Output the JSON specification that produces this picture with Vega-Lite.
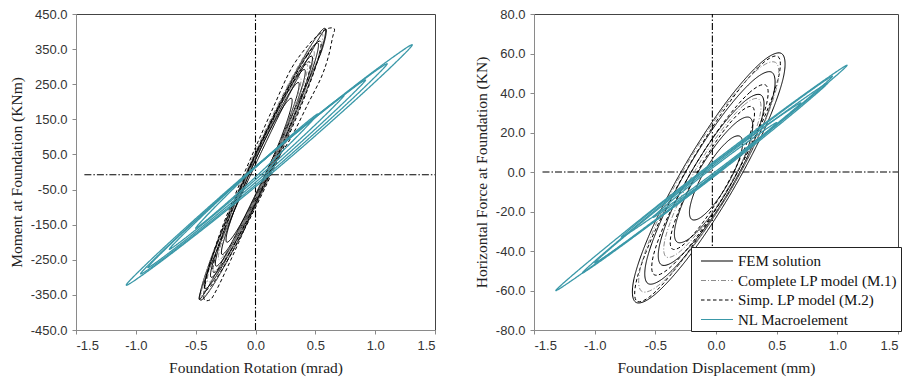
{
"$schema": "https://vega.github.io/schema/vega-lite/v6.json",
"background": "white",
"padding": {"left": 8, "top": 7, "right": 0, "bottom": 2},
"spacing": 36,
"config": {
  "view": {"stroke": "#444", "strokeWidth": 1},
  "axis": {"grid": false, "domainColor": "#8a8a8a", "tickColor": "#8a8a8a", "tickSize": 4, "labelPadding": 5, "labelFont": "Liberation Sans", "labelFontSize": 13, "labelColor": "#333", "titleFont": "Liberation Serif", "titleFontSize": 15.5, "titleFontWeight": "normal", "titleColor": "#222"},
  "axisX": {"titlePadding": 8},
  "axisY": {"titlePadding": 6}
},
"datasets": {
"L": [
{"s":"N","k":"N1","x":-1.08,"y":-322},{"s":"N","k":"N1","x":-0.937,"y":-270.5},{"s":"N","k":"N1","x":-0.602,"y":-164.2},{"s":"N","k":"N1","x":-0.124,"y":-19.9},{"s":"N","k":"N1","x":0.354,"y":116.9},{"s":"N","k":"N1","x":0.832,"y":246.2},{"s":"N","k":"N1","x":1.167,"y":331.5},{"s":"N","k":"N1","x":1.31,"y":362},{"s":"N","k":"N1","x":1.167,"y":310.5},{"s":"N","k":"N1","x":0.832,"y":204.2},{"s":"N","k":"N1","x":0.354,"y":59.9},{"s":"N","k":"N1","x":-0.124,"y":-76.9},{"s":"N","k":"N1","x":-0.602,"y":-206.2},{"s":"N","k":"N1","x":-0.937,"y":-291.5},
{"s":"N","k":"N2","x":-0.96,"y":-290},{"s":"N","k":"N2","x":-0.836,"y":-245.0},{"s":"N","k":"N2","x":-0.548,"y":-152.2},{"s":"N","k":"N2","x":-0.136,"y":-26.1},{"s":"N","k":"N2","x":0.276,"y":93.5},{"s":"N","k":"N2","x":0.688,"y":206.6},{"s":"N","k":"N2","x":0.976,"y":281.2},{"s":"N","k":"N2","x":1.10,"y":308},{"s":"N","k":"N2","x":0.976,"y":263.0},{"s":"N","k":"N2","x":0.688,"y":170.2},{"s":"N","k":"N2","x":0.276,"y":44.1},{"s":"N","k":"N2","x":-0.136,"y":-75.5},{"s":"N","k":"N2","x":-0.548,"y":-188.6},{"s":"N","k":"N2","x":-0.836,"y":-263.2},
{"s":"N","k":"N3","x":-0.90,"y":-272},{"s":"N","k":"N3","x":-0.791,"y":-232.3},{"s":"N","k":"N3","x":-0.536,"y":-149.8},{"s":"N","k":"N3","x":-0.172,"y":-37.5},{"s":"N","k":"N3","x":0.192,"y":69.3},{"s":"N","k":"N3","x":0.556,"y":170.6},{"s":"N","k":"N3","x":0.811,"y":237.7},{"s":"N","k":"N3","x":0.92,"y":262},{"s":"N","k":"N3","x":0.811,"y":222.3},{"s":"N","k":"N3","x":0.556,"y":139.8},{"s":"N","k":"N3","x":0.192,"y":27.5},{"s":"N","k":"N3","x":-0.172,"y":-79.3},{"s":"N","k":"N3","x":-0.536,"y":-180.6},{"s":"N","k":"N3","x":-0.791,"y":-247.7},
{"s":"N","k":"N4","x":-0.72,"y":-220},{"s":"N","k":"N4","x":-0.632,"y":-187.4},{"s":"N","k":"N4","x":-0.428,"y":-119.8},{"s":"N","k":"N4","x":-0.136,"y":-27.7},{"s":"N","k":"N4","x":0.156,"y":59.9},{"s":"N","k":"N4","x":0.448,"y":143.0},{"s":"N","k":"N4","x":0.652,"y":198.0},{"s":"N","k":"N4","x":0.74,"y":218},{"s":"N","k":"N4","x":0.652,"y":185.4},{"s":"N","k":"N4","x":0.448,"y":117.8},{"s":"N","k":"N4","x":0.156,"y":25.7},{"s":"N","k":"N4","x":-0.136,"y":-61.9},{"s":"N","k":"N4","x":-0.428,"y":-145.0},{"s":"N","k":"N4","x":-0.632,"y":-200.0},
{"s":"N","k":"N5","x":-0.50,"y":-160},{"s":"N","k":"N5","x":-0.439,"y":-135.6},{"s":"N","k":"N5","x":-0.296,"y":-85.2},{"s":"N","k":"N5","x":-0.092,"y":-16.7},{"s":"N","k":"N5","x":0.112,"y":48.3},{"s":"N","k":"N5","x":0.316,"y":109.8},{"s":"N","k":"N5","x":0.459,"y":150.4},{"s":"N","k":"N5","x":0.52,"y":165},{"s":"N","k":"N5","x":0.459,"y":140.6},{"s":"N","k":"N5","x":0.316,"y":90.2},{"s":"N","k":"N5","x":0.112,"y":21.7},{"s":"N","k":"N5","x":-0.092,"y":-43.3},{"s":"N","k":"N5","x":-0.296,"y":-104.8},{"s":"N","k":"N5","x":-0.439,"y":-145.4},
{"s":"F","k":"F1","x":0.58,"y":409},{"s":"F","k":"F1","x":0.468,"y":363.1},{"s":"F","k":"F1","x":0.246,"y":225.9},{"s":"F","k":"F1","x":-0.025,"y":34},{"s":"F","k":"F1","x":-0.274,"y":-161.1},{"s":"F","k":"F1","x":-0.433,"y":-307.1},{"s":"F","k":"F1","x":-0.46,"y":-365},{"s":"F","k":"F1","x":-0.348,"y":-319.1},{"s":"F","k":"F1","x":-0.126,"y":-181.9},{"s":"F","k":"F1","x":0.145,"y":10},{"s":"F","k":"F1","x":0.394,"y":205.1},{"s":"F","k":"F1","x":0.553,"y":351.1},
{"s":"F","k":"F2","x":0.52,"y":368},{"s":"F","k":"F2","x":0.417,"y":326.6},{"s":"F","k":"F2","x":0.216,"y":202.5},{"s":"F","k":"F2","x":-0.03,"y":29},{"s":"F","k":"F2","x":-0.254,"y":-147.5},{"s":"F","k":"F2","x":-0.397,"y":-279.6},{"s":"F","k":"F2","x":-0.42,"y":-332},{"s":"F","k":"F2","x":-0.317,"y":-290.6},{"s":"F","k":"F2","x":-0.116,"y":-166.5},{"s":"F","k":"F2","x":0.13,"y":7},{"s":"F","k":"F2","x":0.354,"y":183.5},{"s":"F","k":"F2","x":0.497,"y":315.6},
{"s":"F","k":"F3","x":0.47,"y":330},{"s":"F","k":"F3","x":0.376,"y":292.8},{"s":"F","k":"F3","x":0.195,"y":181.2},{"s":"F","k":"F3","x":-0.025,"y":25},{"s":"F","k":"F3","x":-0.225,"y":-133.8},{"s":"F","k":"F3","x":-0.351,"y":-252.8},{"s":"F","k":"F3","x":-0.37,"y":-300},{"s":"F","k":"F3","x":-0.276,"y":-262.8},{"s":"F","k":"F3","x":-0.095,"y":-151.2},{"s":"F","k":"F3","x":0.125,"y":5},{"s":"F","k":"F3","x":0.325,"y":163.8},{"s":"F","k":"F3","x":0.451,"y":282.8},
{"s":"F","k":"F4","x":0.41,"y":292},{"s":"F","k":"F4","x":0.325,"y":259.5},{"s":"F","k":"F4","x":0.164,"y":160.7},{"s":"F","k":"F4","x":-0.03,"y":22},{"s":"F","k":"F4","x":-0.206,"y":-119.3},{"s":"F","k":"F4","x":-0.315,"y":-225.5},{"s":"F","k":"F4","x":-0.33,"y":-268},{"s":"F","k":"F4","x":-0.245,"y":-235.5},{"s":"F","k":"F4","x":-0.084,"y":-136.7},{"s":"F","k":"F4","x":0.11,"y":2},{"s":"F","k":"F4","x":0.286,"y":143.3},{"s":"F","k":"F4","x":0.395,"y":249.5},
{"s":"F","k":"F5","x":0.36,"y":255},{"s":"F","k":"F5","x":0.287,"y":226.7},{"s":"F","k":"F5","x":0.148,"y":140.3},{"s":"F","k":"F5","x":-0.02,"y":19},{"s":"F","k":"F5","x":-0.172,"y":-104.7},{"s":"F","k":"F5","x":-0.267,"y":-197.7},{"s":"F","k":"F5","x":-0.28,"y":-235},{"s":"F","k":"F5","x":-0.207,"y":-206.7},{"s":"F","k":"F5","x":-0.068,"y":-120.3},{"s":"F","k":"F5","x":0.10,"y":1},{"s":"F","k":"F5","x":0.252,"y":124.7},{"s":"F","k":"F5","x":0.347,"y":217.7},
{"s":"F","k":"F6","x":0.30,"y":210},{"s":"F","k":"F6","x":0.234,"y":186.5},{"s":"F","k":"F6","x":0.113,"y":114.4},{"s":"F","k":"F6","x":-0.03,"y":13},{"s":"F","k":"F6","x":-0.157,"y":-90.6},{"s":"F","k":"F6","x":-0.234,"y":-168.5},{"s":"F","k":"F6","x":-0.24,"y":-200},{"s":"F","k":"F6","x":-0.174,"y":-176.5},{"s":"F","k":"F6","x":-0.053,"y":-104.4},{"s":"F","k":"F6","x":0.09,"y":-3},{"s":"F","k":"F6","x":0.217,"y":100.6},{"s":"F","k":"F6","x":0.294,"y":178.5},
{"s":"F","k":"F7","x":0.59,"y":407},{"s":"F","k":"F7","x":0.494,"y":358.9},{"s":"F","k":"F7","x":0.282,"y":220.6},{"s":"F","k":"F7","x":0.01,"y":29},{"s":"F","k":"F7","x":-0.248,"y":-164.4},{"s":"F","k":"F7","x":-0.424,"y":-307.9},{"s":"F","k":"F7","x":-0.47,"y":-363},{"s":"F","k":"F7","x":-0.374,"y":-314.9},{"s":"F","k":"F7","x":-0.162,"y":-176.6},{"s":"F","k":"F7","x":0.11,"y":15},{"s":"F","k":"F7","x":0.368,"y":208.4},{"s":"F","k":"F7","x":0.544,"y":336.9},
{"s":"C","k":"C1","x":0.555,"y":395},{"s":"C","k":"C1","x":0.443,"y":351.3},{"s":"C","k":"C1","x":0.227,"y":218.8},{"s":"C","k":"C1","x":-0.035,"y":33},{"s":"C","k":"C1","x":-0.273,"y":-156.2},{"s":"C","k":"C1","x":-0.423,"y":-298.3},{"s":"C","k":"C1","x":-0.445,"y":-355},{"s":"C","k":"C1","x":-0.333,"y":-311.3},{"s":"C","k":"C1","x":-0.117,"y":-178.8},{"s":"C","k":"C1","x":0.145,"y":7},{"s":"C","k":"C1","x":0.383,"y":196.2},{"s":"C","k":"C1","x":0.533,"y":338.3},
{"s":"C","k":"C2","x":0.485,"y":346},{"s":"C","k":"C2","x":0.386,"y":307.8},{"s":"C","k":"C2","x":0.196,"y":191.4},{"s":"C","k":"C2","x":-0.035,"y":28},{"s":"C","k":"C2","x":-0.244,"y":-138.6},{"s":"C","k":"C2","x":-0.376,"y":-263.8},{"s":"C","k":"C2","x":-0.395,"y":-314},{"s":"C","k":"C2","x":-0.296,"y":-275.8},{"s":"C","k":"C2","x":-0.106,"y":-159.4},{"s":"C","k":"C2","x":0.125,"y":4},{"s":"C","k":"C2","x":0.334,"y":170.6},{"s":"C","k":"C2","x":0.466,"y":295.8},
{"s":"C","k":"C3","x":0.43,"y":307},{"s":"C","k":"C3","x":0.343,"y":272.5},{"s":"C","k":"C3","x":0.174,"y":168.2},{"s":"C","k":"C3","x":-0.03,"y":22},{"s":"C","k":"C3","x":-0.216,"y":-126.8},{"s":"C","k":"C3","x":-0.333,"y":-238.5},{"s":"C","k":"C3","x":-0.35,"y":-283},{"s":"C","k":"C3","x":-0.263,"y":-248.5},{"s":"C","k":"C3","x":-0.094,"y":-144.2},{"s":"C","k":"C3","x":0.11,"y":2},{"s":"C","k":"C3","x":0.296,"y":150.8},{"s":"C","k":"C3","x":0.413,"y":262.5},
{"s":"C","k":"C4","x":0.375,"y":270},{"s":"C","k":"C4","x":0.297,"y":239.7},{"s":"C","k":"C4","x":0.149,"y":147.8},{"s":"C","k":"C4","x":-0.03,"y":19},{"s":"C","k":"C4","x":-0.191,"y":-112.2},{"s":"C","k":"C4","x":-0.292,"y":-210.7},{"s":"C","k":"C4","x":-0.305,"y":-250},{"s":"C","k":"C4","x":-0.227,"y":-219.7},{"s":"C","k":"C4","x":-0.079,"y":-127.8},{"s":"C","k":"C4","x":0.10,"y":1},{"s":"C","k":"C4","x":0.261,"y":132.2},{"s":"C","k":"C4","x":0.362,"y":229.7},
{"s":"S","k":"S1","x":-0.43,"y":-362},{"s":"S","k":"S1","x":-0.42,"y":-320},{"s":"S","k":"S1","x":-0.37,"y":-250},{"s":"S","k":"S1","x":-0.27,"y":-150},{"s":"S","k":"S1","x":-0.14,"y":-40},{"s":"S","k":"S1","x":0.0,"y":70},{"s":"S","k":"S1","x":0.15,"y":185},{"s":"S","k":"S1","x":0.30,"y":295},{"s":"S","k":"S1","x":0.45,"y":365},{"s":"S","k":"S1","x":0.56,"y":400},{"s":"S","k":"S1","x":0.62,"y":410},{"s":"S","k":"S1","x":0.66,"y":407},{"s":"S","k":"S1","x":0.645,"y":385},{"s":"S","k":"S1","x":0.61,"y":330},{"s":"S","k":"S1","x":0.55,"y":270},{"s":"S","k":"S1","x":0.44,"y":195},{"s":"S","k":"S1","x":0.30,"y":100},{"s":"S","k":"S1","x":0.12,"y":0},{"s":"S","k":"S1","x":0.0,"y":-90},{"s":"S","k":"S1","x":-0.14,"y":-200},{"s":"S","k":"S1","x":-0.26,"y":-290},{"s":"S","k":"S1","x":-0.34,"y":-345},{"s":"S","k":"S1","x":-0.38,"y":-364},
{"s":"S","k":"S2","x":0.54,"y":373},{"s":"S","k":"S2","x":0.431,"y":331.4},{"s":"S","k":"S2","x":0.222,"y":205.9},{"s":"S","k":"S2","x":-0.03,"y":30},{"s":"S","k":"S2","x":-0.258,"y":-149.1},{"s":"S","k":"S2","x":-0.401,"y":-283.4},{"s":"S","k":"S2","x":-0.42,"y":-337},{"s":"S","k":"S2","x":-0.311,"y":-295.4},{"s":"S","k":"S2","x":-0.102,"y":-169.9},{"s":"S","k":"S2","x":0.15,"y":6},{"s":"S","k":"S2","x":0.378,"y":185.1},{"s":"S","k":"S2","x":0.521,"y":319.4},
{"s":"S","k":"S3","x":0.45,"y":314},{"s":"S","k":"S3","x":0.356,"y":279.3},{"s":"S","k":"S3","x":0.181,"y":173.5},{"s":"S","k":"S3","x":-0.03,"y":25},{"s":"S","k":"S3","x":-0.219,"y":-126.5},{"s":"S","k":"S3","x":-0.336,"y":-240.3},{"s":"S","k":"S3","x":-0.35,"y":-286},{"s":"S","k":"S3","x":-0.256,"y":-251.3},{"s":"S","k":"S3","x":-0.081,"y":-145.5},{"s":"S","k":"S3","x":0.13,"y":3},{"s":"S","k":"S3","x":0.319,"y":154.5},{"s":"S","k":"S3","x":0.436,"y":268.3}
],
"R": [
{"s":"N","k":"N1","x":-1.32,"y":-60},{"s":"N","k":"N1","x":-1.176,"y":-51.9},{"s":"N","k":"N1","x":-0.84,"y":-34.75},{"s":"N","k":"N1","x":-0.36,"y":-11.1},{"s":"N","k":"N1","x":0.12,"y":11.7},{"s":"N","k":"N1","x":0.60,"y":33.65},{"s":"N","k":"N1","x":0.936,"y":48.4},{"s":"N","k":"N1","x":1.08,"y":54},{"s":"N","k":"N1","x":0.936,"y":45.9},{"s":"N","k":"N1","x":0.60,"y":28.75},{"s":"N","k":"N1","x":0.12,"y":5.1},{"s":"N","k":"N1","x":-0.36,"y":-17.7},{"s":"N","k":"N1","x":-0.84,"y":-39.65},{"s":"N","k":"N1","x":-1.176,"y":-54.4},
{"s":"N","k":"N2","x":-1.10,"y":-51},{"s":"N","k":"N2","x":-0.976,"y":-43.9},{"s":"N","k":"N2","x":-0.688,"y":-28.86},{"s":"N","k":"N2","x":-0.276,"y":-8.16},{"s":"N","k":"N2","x":0.136,"y":11.74},{"s":"N","k":"N2","x":0.548,"y":30.84},{"s":"N","k":"N2","x":0.836,"y":43.65},{"s":"N","k":"N2","x":0.96,"y":48.5},{"s":"N","k":"N2","x":0.836,"y":41.41},{"s":"N","k":"N2","x":0.548,"y":26.36},{"s":"N","k":"N2","x":0.136,"y":5.66},{"s":"N","k":"N2","x":-0.276,"y":-14.24},{"s":"N","k":"N2","x":-0.688,"y":-33.34},{"s":"N","k":"N2","x":-0.976,"y":-46.15},
{"s":"N","k":"N3","x":-1.00,"y":-46},{"s":"N","k":"N3","x":-0.885,"y":-39.49},{"s":"N","k":"N3","x":-0.616,"y":-25.7},{"s":"N","k":"N3","x":-0.232,"y":-6.75},{"s":"N","k":"N3","x":0.152,"y":11.45},{"s":"N","k":"N3","x":0.536,"y":28.9},{"s":"N","k":"N3","x":0.805,"y":40.59},{"s":"N","k":"N3","x":0.92,"y":45},{"s":"N","k":"N3","x":0.805,"y":38.49},{"s":"N","k":"N3","x":0.536,"y":24.7},{"s":"N","k":"N3","x":0.152,"y":5.75},{"s":"N","k":"N3","x":-0.232,"y":-12.45},{"s":"N","k":"N3","x":-0.616,"y":-29.9},{"s":"N","k":"N3","x":-0.885,"y":-41.59},
{"s":"N","k":"N4","x":-0.78,"y":-33},{"s":"N","k":"N4","x":-0.691,"y":-28.05},{"s":"N","k":"N4","x":-0.484,"y":-17.65},{"s":"N","k":"N4","x":-0.188,"y":-3.43},{"s":"N","k":"N4","x":0.108,"y":10.18},{"s":"N","k":"N4","x":0.404,"y":23.15},{"s":"N","k":"N4","x":0.611,"y":31.8},{"s":"N","k":"N4","x":0.70,"y":35},{"s":"N","k":"N4","x":0.611,"y":30.05},{"s":"N","k":"N4","x":0.404,"y":19.65},{"s":"N","k":"N4","x":0.108,"y":5.43},{"s":"N","k":"N4","x":-0.188,"y":-8.18},{"s":"N","k":"N4","x":-0.484,"y":-21.15},{"s":"N","k":"N4","x":-0.691,"y":-29.8},
{"s":"N","k":"N5","x":-0.52,"y":-23},{"s":"N","k":"N5","x":-0.459,"y":-19.42},{"s":"N","k":"N5","x":-0.316,"y":-12.0},{"s":"N","k":"N5","x":-0.112,"y":-1.9},{"s":"N","k":"N5","x":0.092,"y":7.7},{"s":"N","k":"N5","x":0.296,"y":16.8},{"s":"N","k":"N5","x":0.439,"y":22.82},{"s":"N","k":"N5","x":0.50,"y":25},{"s":"N","k":"N5","x":0.439,"y":21.42},{"s":"N","k":"N5","x":0.296,"y":14.0},{"s":"N","k":"N5","x":0.092,"y":3.9},{"s":"N","k":"N5","x":-0.112,"y":-5.7},{"s":"N","k":"N5","x":-0.316,"y":-14.8},{"s":"N","k":"N5","x":-0.459,"y":-20.82},
{"s":"F","k":"F1","x":0.54,"y":60},{"s":"F","k":"F1","x":0.364,"y":55.0},{"s":"F","k":"F1","x":0.074,"y":34.5},{"s":"F","k":"F1","x":-0.252,"y":3.9},{"s":"F","k":"F1","x":-0.526,"y":-28.5},{"s":"F","k":"F1","x":-0.676,"y":-54.1},{"s":"F","k":"F1","x":-0.66,"y":-66},{"s":"F","k":"F1","x":-0.484,"y":-61.0},{"s":"F","k":"F1","x":-0.194,"y":-40.5},{"s":"F","k":"F1","x":0.132,"y":-9.9},{"s":"F","k":"F1","x":0.406,"y":22.5},{"s":"F","k":"F1","x":0.556,"y":48.1},
{"s":"F","k":"F2","x":0.46,"y":50.5},{"s":"F","k":"F2","x":0.307,"y":46.4},{"s":"F","k":"F2","x":0.058,"y":29.1},{"s":"F","k":"F2","x":-0.22,"y":3.2},{"s":"F","k":"F2","x":-0.452,"y":-24.4},{"s":"F","k":"F2","x":-0.577,"y":-46.2},{"s":"F","k":"F2","x":-0.56,"y":-56.5},{"s":"F","k":"F2","x":-0.407,"y":-52.4},{"s":"F","k":"F2","x":-0.158,"y":-35.1},{"s":"F","k":"F2","x":0.12,"y":-9.2},{"s":"F","k":"F2","x":0.352,"y":18.4},{"s":"F","k":"F2","x":0.477,"y":40.2},
{"s":"F","k":"F3","x":0.37,"y":39},{"s":"F","k":"F3","x":0.24,"y":36.0},{"s":"F","k":"F3","x":0.035,"y":22.3},{"s":"F","k":"F3","x":-0.19,"y":1.5},{"s":"F","k":"F3","x":-0.375,"y":-20.7},{"s":"F","k":"F3","x":-0.47,"y":-38.5},{"s":"F","k":"F3","x":-0.45,"y":-47},{"s":"F","k":"F3","x":-0.32,"y":-44.0},{"s":"F","k":"F3","x":-0.115,"y":-30.3},{"s":"F","k":"F3","x":0.11,"y":-9.5},{"s":"F","k":"F3","x":0.295,"y":12.7},{"s":"F","k":"F3","x":0.39,"y":30.5},
{"s":"F","k":"F4","x":0.28,"y":27.5},{"s":"F","k":"F4","x":0.18,"y":25.7},{"s":"F","k":"F4","x":0.026,"y":15.9},{"s":"F","k":"F4","x":-0.14,"y":0.8},{"s":"F","k":"F4","x":-0.274,"y":-15.6},{"s":"F","k":"F4","x":-0.34,"y":-28.9},{"s":"F","k":"F4","x":-0.32,"y":-35.5},{"s":"F","k":"F4","x":-0.22,"y":-33.7},{"s":"F","k":"F4","x":-0.066,"y":-23.9},{"s":"F","k":"F4","x":0.10,"y":-8.8},{"s":"F","k":"F4","x":0.234,"y":7.6},{"s":"F","k":"F4","x":0.30,"y":20.9},
{"s":"F","k":"F5","x":0.20,"y":18},{"s":"F","k":"F5","x":0.128,"y":17.1},{"s":"F","k":"F5","x":0.022,"y":10.8},{"s":"F","k":"F5","x":-0.09,"y":0.8},{"s":"F","k":"F5","x":-0.178,"y":-10.2},{"s":"F","k":"F5","x":-0.218,"y":-19.3},{"s":"F","k":"F5","x":-0.20,"y":-24},{"s":"F","k":"F5","x":-0.128,"y":-23.1},{"s":"F","k":"F5","x":-0.022,"y":-16.8},{"s":"F","k":"F5","x":0.09,"y":-6.8},{"s":"F","k":"F5","x":0.178,"y":4.2},{"s":"F","k":"F5","x":0.218,"y":13.3},
{"s":"S","k":"S1","x":0.51,"y":58.5},{"s":"S","k":"S1","x":0.352,"y":53.2},{"s":"S","k":"S1","x":0.081,"y":32.7},{"s":"S","k":"S1","x":-0.23,"y":2.5},{"s":"S","k":"S1","x":-0.499,"y":-29.3},{"s":"S","k":"S1","x":-0.652,"y":-54.2},{"s":"S","k":"S1","x":-0.65,"y":-65.5},{"s":"S","k":"S1","x":-0.492,"y":-60.2},{"s":"S","k":"S1","x":-0.221,"y":-39.7},{"s":"S","k":"S1","x":0.09,"y":-9.5},{"s":"S","k":"S1","x":0.359,"y":22.3},{"s":"S","k":"S1","x":0.512,"y":47.2},
{"s":"S","k":"S2","x":0.41,"y":44},{"s":"S","k":"S2","x":0.278,"y":40.3},{"s":"S","k":"S2","x":0.059,"y":24.8},{"s":"S","k":"S2","x":-0.19,"y":1.5},{"s":"S","k":"S2","x":-0.401,"y":-23.2},{"s":"S","k":"S2","x":-0.518,"y":-42.8},{"s":"S","k":"S2","x":-0.51,"y":-52},{"s":"S","k":"S2","x":-0.378,"y":-48.3},{"s":"S","k":"S2","x":-0.159,"y":-32.8},{"s":"S","k":"S2","x":0.09,"y":-9.5},{"s":"S","k":"S2","x":0.301,"y":15.2},{"s":"S","k":"S2","x":0.418,"y":34.8},
{"s":"S","k":"S3","x":0.30,"y":33},{"s":"S","k":"S3","x":0.201,"y":30.4},{"s":"S","k":"S3","x":0.040,"y":18.9},{"s":"S","k":"S3","x":-0.14,"y":1.5},{"s":"S","k":"S3","x":-0.29,"y":-17.1},{"s":"S","k":"S3","x":-0.371,"y":-31.9},{"s":"S","k":"S3","x":-0.36,"y":-39},{"s":"S","k":"S3","x":-0.261,"y":-36.4},{"s":"S","k":"S3","x":-0.10,"y":-24.9},{"s":"S","k":"S3","x":0.08,"y":-7.5},{"s":"S","k":"S3","x":0.23,"y":11.1},{"s":"S","k":"S3","x":0.311,"y":25.9},
{"s":"C","k":"C1","x":0.49,"y":55.5},{"s":"C","k":"C1","x":0.326,"y":51.0},{"s":"C","k":"C1","x":0.059,"y":32.1},{"s":"C","k":"C1","x":-0.24,"y":4.0},{"s":"C","k":"C1","x":-0.491,"y":-25.9},{"s":"C","k":"C1","x":-0.626,"y":-49.5},{"s":"C","k":"C1","x":-0.61,"y":-60.5},{"s":"C","k":"C1","x":-0.446,"y":-56.0},{"s":"C","k":"C1","x":-0.179,"y":-37.1},{"s":"C","k":"C1","x":0.12,"y":-9.0},{"s":"C","k":"C1","x":0.371,"y":20.9},{"s":"C","k":"C1","x":0.506,"y":44.5},
{"s":"C","k":"C2","x":0.35,"y":37},{"s":"C","k":"C2","x":0.234,"y":34.1},{"s":"C","k":"C2","x":0.047,"y":21.3},{"s":"C","k":"C2","x":-0.16,"y":2.0},{"s":"C","k":"C2","x":-0.333,"y":-18.7},{"s":"C","k":"C2","x":-0.424,"y":-35.1},{"s":"C","k":"C2","x":-0.41,"y":-43},{"s":"C","k":"C2","x":-0.294,"y":-40.1},{"s":"C","k":"C2","x":-0.107,"y":-27.3},{"s":"C","k":"C2","x":0.10,"y":-8.0},{"s":"C","k":"C2","x":0.273,"y":12.7},{"s":"C","k":"C2","x":0.364,"y":29.1}
]
},
"hconcat": [
{
  "width": 359, "height": 316,
  "encoding": {
    "x": {"field": "x", "type": "quantitative", "scale": {"domain": [-1.5, 1.5], "nice": false}, "axis": {"values": [-1.5, -1, -0.5, 0, 0.5, 1, 1.5], "labelExpr": "replace(format(datum.value,'.1f'),'\u2212','-')", "title": "Foundation Rotation (mrad)"}},
    "y": {"field": "y", "type": "quantitative", "scale": {"domain": [-450, 450], "nice": false}, "axis": {"values": [-450, -350, -250, -150, -50, 50, 150, 250, 350, 450], "labelExpr": "replace(format(datum.value,'.1f'),'\u2212','-')", "title": "Moment at Foundation (KNm)"}}
  },
  "layer": [
    {"data": {"values": [{"x": 0, "y": -450, "y2": 450}]}, "mark": {"type": "rule", "color": "black", "strokeWidth": 1.1, "strokeDash": [7, 2, 1.5, 2]},
     "encoding": {"y2": {"field": "y2"}}},
    {"data": {"values": [{"x": -1.43, "x2": 1.5, "y": -8}]}, "mark": {"type": "rule", "color": "black", "strokeWidth": 1.1, "strokeDash": [7, 2, 1.5, 2]},
     "encoding": {"x2": {"field": "x2"}}},
    {"data": {"name": "L"}, "transform": [{"filter": "datum.s != 'N'"}],
     "mark": {"type": "line", "interpolate": "cardinal-closed", "strokeWidth": 1.0},
     "encoding": {
       "detail": {"field": "k"},
       "color": {"field": "s", "type": "nominal", "scale": {"domain": ["F", "C", "S", "N"], "range": ["#000000", "#8c8c8c", "#000000", "#3a98a8"]}, "legend": null},
       "strokeDash": {"field": "s", "type": "nominal", "scale": {"domain": ["F", "C", "S", "N"], "range": [[1, 0], [5, 2, 1, 2], [3.5, 2.5], [1, 0]]}, "legend": null},
       "order": {"value": null}
     }},
    {"data": {"name": "L"}, "transform": [{"filter": "datum.s == 'N'"}],
     "mark": {"type": "line", "interpolate": "cardinal-closed", "strokeWidth": 1.3},
     "encoding": {
       "detail": {"field": "k"},
       "color": {"field": "s", "type": "nominal", "legend": null},
       "strokeDash": {"field": "s", "type": "nominal", "legend": null},
       "order": {"value": null}
     }}
  ]
},
{
  "width": 364, "height": 316,
  "encoding": {
    "x": {"field": "x", "type": "quantitative", "scale": {"domain": [-1.5, 1.5], "nice": false}, "axis": {"values": [-1.5, -1, -0.5, 0, 0.5, 1, 1.5], "labelExpr": "replace(format(datum.value,'.1f'),'\u2212','-')", "title": "Foundation Displacement (mm)"}},
    "y": {"field": "y", "type": "quantitative", "scale": {"domain": [-80, 80], "nice": false}, "axis": {"values": [-80, -60, -40, -20, 0, 20, 40, 60, 80], "labelExpr": "replace(format(datum.value,'.1f'),'\u2212','-')", "title": "Horizontal Force  at Foundation (KN)"}}
  },
  "layer": [
    {"data": {"values": [{"x": -0.03, "y": -80, "y2": 80}]}, "mark": {"type": "rule", "color": "black", "strokeWidth": 1.1, "strokeDash": [7, 2, 1.5, 2]},
     "encoding": {"y2": {"field": "y2"}}},
    {"data": {"values": [{"x": -1.43, "x2": 1.5, "y": 0}]}, "mark": {"type": "rule", "color": "black", "strokeWidth": 1.1, "strokeDash": [7, 2, 1.5, 2]},
     "encoding": {"x2": {"field": "x2"}}},
    {"data": {"name": "R"}, "transform": [{"filter": "datum.s != 'N'"}],
     "mark": {"type": "line", "interpolate": "cardinal-closed", "strokeWidth": 1.0},
     "encoding": {
       "detail": {"field": "k"},
       "color": {"field": "s", "type": "nominal", "scale": {"domain": ["F", "C", "S", "N"], "range": ["#000000", "#8c8c8c", "#000000", "#3a98a8"]},
         "legend": {"orient": "none", "legendX": 157, "legendY": 233, "title": null, "symbolType": "M-1.6,0H1.6", "symbolSize": 400, "symbolOffset": 12, "symbolStrokeWidth": 1.2, "labelFont": "Liberation Serif", "labelFontSize": 15, "labelColor": "#111", "strokeColor": "#222", "fillColor": "white", "padding": 3, "rowPadding": 0.5, "labelOffset": 10, "labelLimit": 400, "labelExpr": "datum.label == 'F' ? 'FEM solution' : datum.label == 'C' ? 'Complete LP model (M.1)' : datum.label == 'S' ? 'Simp. LP model (M.2)' : 'NL Macroelement'"}},
       "strokeDash": {"field": "s", "type": "nominal", "scale": {"domain": ["F", "C", "S", "N"], "range": [[1, 0], [5, 2, 1, 2], [3.5, 2.5], [1, 0]]},
         "legend": {"orient": "none", "legendX": 157, "legendY": 233, "title": null, "symbolType": "M-1.6,0H1.6", "symbolSize": 400, "symbolOffset": 12, "symbolStrokeWidth": 1.2, "labelFont": "Liberation Serif", "labelFontSize": 15, "labelColor": "#111", "strokeColor": "#222", "fillColor": "white", "padding": 3, "rowPadding": 0.5, "labelOffset": 10, "labelLimit": 400, "labelExpr": "datum.label == 'F' ? 'FEM solution' : datum.label == 'C' ? 'Complete LP model (M.1)' : datum.label == 'S' ? 'Simp. LP model (M.2)' : 'NL Macroelement'"}},
       "order": {"value": null}
     }},
    {"data": {"name": "R"}, "transform": [{"filter": "datum.s == 'N'"}],
     "mark": {"type": "line", "interpolate": "cardinal-closed", "strokeWidth": 1.3},
     "encoding": {
       "detail": {"field": "k"},
       "color": {"field": "s", "type": "nominal"},
       "strokeDash": {"field": "s", "type": "nominal"},
       "order": {"value": null}
     }}
  ]
}
],
"resolve": {"scale": {"color": "independent", "strokeDash": "independent"}, "legend": {"color": "independent", "strokeDash": "independent"}}
}
